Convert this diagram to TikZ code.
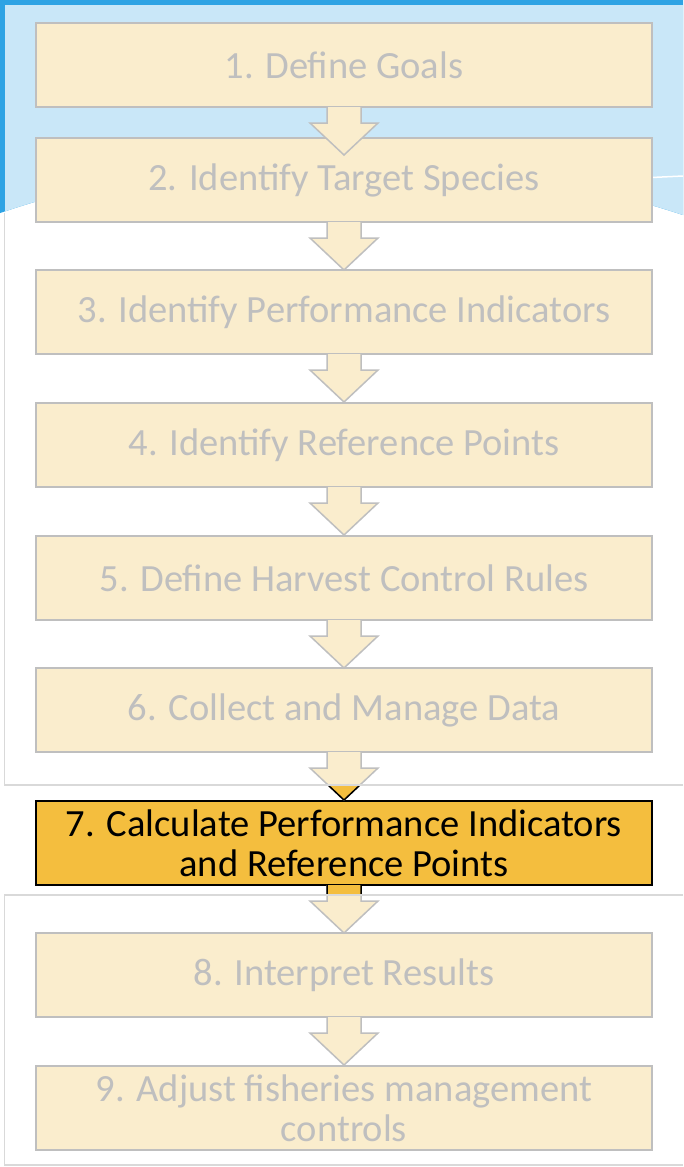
\documentclass[tikz,border=0pt]{standalone}
\usepackage{fontspec}
\setmainfont{Carlito}

\definecolor{washfill}{HTML}{FAEDCD}
\definecolor{washline}{HTML}{BFBFBF}
\definecolor{washblue}{HTML}{C9E7F8}
\definecolor{slideblue}{HTML}{2EA3E4}
\definecolor{hilite}{HTML}{F4BE3E}
\definecolor{veil}{HTML}{D9D9D9}

\tikzset{
  stepbox/.style={draw=washline, fill=washfill, line width=2pt,
    minimum width=616pt, minimum height=84pt, inner sep=0pt,
    text=washline, align=center, font=\fontsize{38.5}{40}\selectfont},
  hilitebox/.style={stepbox, draw=black, fill=hilite, text=black},
  flowarr/.style={draw=washline, fill=washfill, line width=1.5pt, line join=miter},
  hilitearr/.style={flowarr, draw=black, fill=hilite},
}

% block arrow hanging below a step box
\newcommand{\flowarrow}[2]{%
  \path[#1] ([xshift=-17pt,yshift=1pt]#2.south) -- ++(0,16) -- ++(-17,0)
    -- ++(34,32) -- ++(34,-32) -- ++(-17,0) -- ++(0,-16);
}

\begin{document}
\begin{tikzpicture}[x=1pt, y=-1pt]
  \useasboundingbox (0,0) rectangle (683,1167);
  \fill[white] (0,0) rectangle (683,1167);

  % slide background
  \fill[slideblue] (0,0) -- (683,0) -- (683,215)
    parabola bend (330,158) (0,213) -- cycle;
  \begin{scope}
    \clip (5,5) rectangle (683,785);
    \fill[washblue] (0,0) -- (683,0) -- (683,215)
      parabola bend (330,158) (0,213) -- cycle;
    \draw[white, line width=1.5pt] (560,184) .. controls (620,179) .. (683,176);
  \end{scope}

  % steps
  \foreach \n/\y/\st/\txt in {
      1/65/stepbox/{1. Define Goals},
      2/180/stepbox/{2. Identify Target Species},
      3/312/stepbox/{3. Identify Performance Indicators},
      4/445/stepbox/{4. Identify Reference Points},
      5/578/stepbox/{5. Define Harvest Control Rules},
      6/710/stepbox/{6. Collect and Manage Data},
      7/843/hilitebox/{7. Calculate Performance Indicators\\and Reference Points},
      8/975/stepbox/{8. Interpret Results},
      9/1108/stepbox/{9. Adjust fisheries management\\controls}}
    \node[\st] (s\n) at (344,\y) {\txt};

  \foreach \a in {1,...,8}
    \flowarrow{flowarr}{s\a};

  % the part of the flow that is not veiled
  \begin{scope}
    \clip (0,786) rectangle (683,894);
    \flowarrow{hilitearr}{s6}
    \flowarrow{hilitearr}{s7}
  \end{scope}

  % veil outlines
  \draw[veil, line width=1.5pt] (683,785) -- (4.5,785) -- (4.5,213);
  \draw[veil, line width=1.5pt] (683,895) -- (4.5,895) -- (4.5,1165) -- (683,1165);
\end{tikzpicture}
\end{document}
